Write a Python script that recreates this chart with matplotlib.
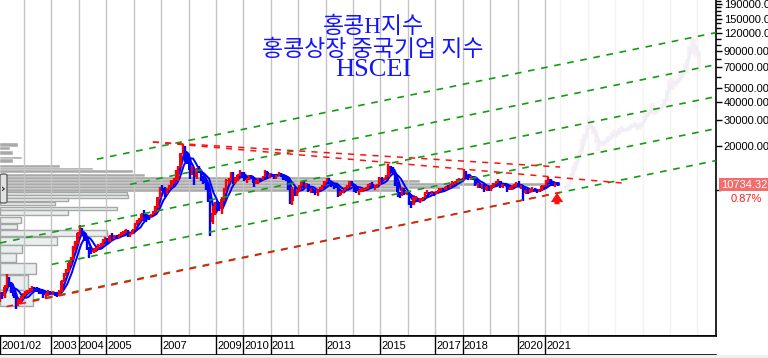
import numpy as np
import matplotlib
matplotlib.use("Agg")
import matplotlib.pyplot as plt
from matplotlib.patches import Rectangle, FancyBboxPatch
from matplotlib.ticker import FixedLocator, FuncFormatter, NullFormatter

plt.rcParams['font.family'] = ['Liberation Sans', 'Noto Sans CJK KR', 'DejaVu Sans']

# ---------------- data (monthly, Feb 2001 .. Jun 2021) ----------------
first_month = (2001, 2)
first_open = 1750
close = [
    1900, 1850, 2150, 2450, 2250, 2000, 1850, 1620, 1700, 1800, 1900,
    1950, 2000, 2050, 2100, 2080, 2050, 2000, 1980, 1870, 1880, 1980, 1930,
    1950, 1900, 1880, 2000, 2350, 2600, 2750, 3150, 3300, 4000, 4300, 5050,
    5300, 5000, 4600, 3950, 3800, 3750, 3850, 3950, 4100, 4150, 4500, 4500,
    4400, 4800, 4700, 4750, 4700, 4850, 4950, 5050, 5250, 4900, 4950, 5250,
    5800, 6000, 6150, 6800, 6600, 6550, 6400, 6750, 6950, 7550, 8850, 10300,
    10200, 9700, 10000, 10500, 11200, 11700, 13500, 14400, 17800, 19900, 16900, 16100,
    13600, 14000, 12300, 13900, 13600, 11800, 11700, 11100, 9400, 6000, 6900, 7900,
    7800, 7400, 8600, 9900, 11500, 11600, 12900, 11300, 11800, 12700, 13200, 12800,
    11700, 11800, 12400, 12100, 11100, 11200, 11800, 11700, 12400, 13200, 12400, 12700,
    12600, 12400, 12500, 12900, 12600, 12100, 11700, 10800, 8300, 10100, 9400, 9900,
    10700, 11300, 10400, 10900, 9800, 9900, 9800, 9500, 9900, 10300, 10600, 11400,
    11700, 11300, 10700, 10600, 10400, 9200, 9700, 9900, 10300, 10600, 11400, 10800,
    9900, 9800, 9800, 9900, 10100, 10200, 10900, 10900, 10300, 10500, 10800, 12000,
    11900, 11900, 12300, 14500, 13600, 13100, 11200, 9600, 9200, 10000, 9300, 9700,
    8300, 7800, 8700, 8700, 8400, 8600, 8700, 9500, 9600, 9500, 9500, 9400,
    9700, 10000, 10100, 10000, 10500, 10400, 10800, 11200, 11300, 11800, 11800, 11700,
    13500, 12400, 12000, 12000, 11900, 10800, 10900, 10600, 10900, 10000, 10500, 10100,
    10600, 11100, 11300, 11500, 10400, 10900, 10700, 10000, 10100, 10500, 10600, 11200,
    10500, 10500, 9500, 9900, 9500, 9900, 10100, 10000, 9600, 10000, 10600, 10700,
    11300, 11800, 11000, 10900, 11000, 10734.32,
]
high = [
    1980, 1990, 2200, 2620, 2500, 2300, 2050, 1900, 1780, 1850, 1950,
    2000, 2050, 2120, 2180, 2150, 2130, 2090, 2050, 2000, 1950, 2030, 2010,
    2020, 1990, 1960, 2050, 2400, 2680, 2850, 3250, 3450, 4100, 4450, 5150,
    5700, 5450, 5050, 4700, 4000, 3950, 3950, 4050, 4200, 4300, 4600, 4700,
    4650, 4900, 5000, 4900, 4850, 4950, 5100, 5200, 5350, 5300, 5050, 5350,
    5900, 6200, 6400, 6950, 7200, 6750, 6700, 6850, 7100, 7700, 8950, 10400,
    10700, 10500, 10200, 10700, 11600, 12000, 13700, 14600, 18000, 20600, 20000, 17500,
    16500, 14600, 14200, 14200, 14600, 13700, 12500, 11900, 11200, 9500, 7700, 8200,
    8400, 8200, 8900, 10200, 11800, 12100, 13300, 13300, 12200, 12900, 13700, 13200,
    13300, 12000, 12600, 12600, 12100, 11700, 12000, 12100, 12500, 13700, 13500, 12900,
    12900, 12700, 12700, 13200, 13000, 12600, 12300, 11800, 10900, 10500, 10400, 10000,
    10800, 11500, 11500, 11100, 11000, 10200, 10100, 10000, 10100, 10500, 10700, 11500,
    12000, 12100, 11400, 10800, 11100, 10400, 9800, 10000, 10500, 10800, 11500, 11400,
    10900, 10200, 9900, 10200, 10300, 10400, 11000, 11200, 11300, 10700, 11000, 12300,
    12300, 12100, 12600, 15000, 14600, 14300, 13200, 11300, 9700, 10400, 10200, 9800,
    9800, 8300, 8900, 9100, 8700, 8800, 8900, 9600, 9900, 9700, 9800, 9700,
    9800, 10200, 10300, 10200, 10600, 10700, 10900, 11400, 11500, 11900, 12000, 11900,
    13960, 13500, 12700, 12400, 12300, 11900, 11100, 11000, 10900, 11000, 10600, 10600,
    10700, 11200, 11500, 11800, 11500, 11000, 11100, 10700, 10400, 10700, 10900, 11300,
    11400, 10800, 10700, 10000, 10200, 10100, 10400, 10300, 10100, 10100, 10700, 10800,
    11700, 12300, 11900, 11200, 11100, 11100,
]
low = [
    1680, 1760, 1800, 2100, 2150, 1950, 1800, 1520, 1580, 1650, 1780,
    1850, 1900, 1960, 2000, 1990, 1960, 1920, 1900, 1800, 1760, 1860, 1870,
    1880, 1850, 1820, 1850, 1990, 2330, 2550, 2720, 3050, 3280, 3800, 4250,
    4900, 4800, 4400, 3850, 3400, 3600, 3650, 3750, 3900, 4000, 4100, 4350,
    4250, 4350, 4550, 4550, 4550, 4650, 4800, 4900, 5000, 4700, 4750, 4950,
    5250, 5700, 5900, 6150, 6100, 6000, 6200, 6350, 6650, 6900, 7500, 8800,
    9800, 8900, 9300, 9900, 10400, 10900, 11600, 11500, 14300, 17600, 15500, 15000,
    11800, 12700, 10800, 11900, 13100, 11500, 11000, 9900, 8200, 4800, 5800, 6700,
    7300, 7100, 6800, 8400, 9800, 10900, 11400, 11000, 11000, 11500, 12400, 12100,
    11400, 11200, 11600, 11800, 10400, 10900, 11000, 11500, 11700, 12300, 12100, 12100,
    12200, 11900, 11800, 12400, 12200, 11600, 11400, 9900, 8000, 7800, 9100, 9100,
    9700, 10600, 10300, 10200, 9600, 9500, 9500, 9200, 9100, 9900, 10000, 10600,
    11300, 11000, 10500, 10100, 10300, 8900, 9100, 9500, 9800, 10100, 10500, 10600,
    9700, 9500, 9200, 9700, 9700, 9900, 10100, 10600, 10200, 10000, 10400, 10800,
    11500, 11700, 11600, 12200, 13300, 12600, 10600, 8900, 8700, 9100, 9200, 9200,
    7900, 7500, 7800, 8500, 8200, 8100, 8500, 8700, 9300, 9300, 9200, 9100,
    9300, 9600, 9800, 9700, 9900, 10200, 10300, 10700, 11000, 11200, 11400, 11300,
    11600, 11900, 11600, 11700, 11600, 10600, 10300, 10200, 10100, 9700, 9800, 9800,
    9800, 10500, 10900, 11200, 10200, 10300, 10600, 9700, 9900, 9900, 10400, 10500,
    10400, 10100, 8300, 9300, 9300, 9500, 9700, 9800, 9500, 9600, 9800, 10400,
    10600, 11200, 10600, 10600, 10500, 10600,
]
last_price = 10734.32
last_change = "0.87%"

title_lines = ["홍콩H지수", "홍콩상장 중국기업 지수", "HSCEI"]
date_labels = ["2001/02", "2003", "2004", "2005", "2007", "2009", "2010", "2011",
               "2013", "2015", "2017", "2018", "2020", "2021"]
date_label_years = [2001.125, 2003, 2004, 2005, 2007, 2009, 2010, 2011,
                    2013, 2015, 2017, 2018, 2020, 2021]
grid_years = list(range(2002, 2022))
right_labels = [20000, 30000, 40000, 50000, 70000, 90000, 120000, 150000, 190000]
right_minor = [10000, 60000, 80000, 100000, 110000, 130000, 140000,
               160000, 170000, 180000, 200000]

# price-volume profile (price band low / high, bar length in years of x axis)
prof_hi = [20974, 19685, 18476, 16798, 16276, 14798, 14108, 13668, 12930, 12232,
           11664, 11122, 10604, 10112, 9642, 9194, 8766, 8228, 7602, 7248,
           6486, 5806, 5278, 4724, 4162, 3666, 3128, 2586, 2038]
prof_lo = [19685, 18772, 17342, 16276, 15276, 14108, 13668, 13032, 12330, 11664,
           11122, 10604, 10112, 9642, 9194, 8766, 8360, 7846, 7248, 6696,
           5898, 5364, 4800, 4162, 3666, 3178, 2628, 2038, 1582]
prof_len = [0.66, 0.36, 0.47, 0.80, 0.47, 2.19, 3.39, 4.85, 5.29, 12.03,
            15.32, 20.31, 16.78, 14.59, 4.63, 4.67, 2.48, 2.01, 4.27, 2.48,
            0.77, 0.62, 3.90, 2.08, 0.80, 0.58, 1.31, 1.02, 1.20]

# trend channel (base line anchors, ratio between parallel lines, start of each line)
chan_t = (2001.125, 2027.24)
chan_p = (1557, 15870)
chan_ratio = 1.661
chan_start = [2002.33, 2003.02, 2001.125, 2005.87, 2004.66]
base_red_span = (2001.125, 2021.55)

# resistance lines from the 2007 top
resA = ((2006.70, 21310), (2023.81, 11120))
resB = ((2006.70, 21310), (2021.55, 14330))

arrow_t = 2021.44
arrow_p = (7600, 9930)

# faint projection (copy of Mar 2003 .. Dec 2007 pattern)
ghost_range = (25, 83)
ghost_shift = 18.56
ghost_scale = 5.46

# ---------------- figure ----------------
W, H = 768, 358
fig = plt.figure(figsize=(W / 100, H / 100), dpi=100)
fig.patch.set_facecolor('white')

XL = (2001.125, 2001.125 + 716 / 27.42)
YL = (982.8, 202560)

ax = fig.add_axes([0, 22 / H, 716 / W, 336 / H])
ax.set_xlim(*XL)
ax.set_yscale('log')
ax.set_ylim(*YL)
for s in ['left', 'top']:
    ax.spines[s].set_visible(False)
ax.spines['right'].set_color('black')
ax.spines['bottom'].set_color('black')
ax.spines['right'].set_linewidth(1.2)
ax.spines['bottom'].set_linewidth(1.2)
ax.set_xticks([])
ax.yaxis.tick_right()
ax.yaxis.set_major_locator(FixedLocator(right_labels))
ax.yaxis.set_minor_locator(FixedLocator(right_minor))
ax.yaxis.set_major_formatter(FuncFormatter(lambda v, p: f"{v:.2f}"))
ax.yaxis.set_minor_formatter(NullFormatter())
ax.tick_params(axis='y', which='major', length=4, width=1, pad=1.5, labelsize=8, colors='black')
ax.tick_params(axis='y', which='minor', length=3.5, width=1)

# grid lines
for g in grid_years:
    ax.axvline(g, color='#c4c4c4', lw=1, zorder=1.5)
for g in range(2003, 2009):
    ax.axvline(g + ghost_shift, color='#f3f3f3', lw=1, zorder=0.5)

# volume profile
for lo, hi, ln in zip(prof_lo, prof_hi, prof_len):
    if lo >= 9600:
        r = Rectangle((XL[0], lo), ln, hi - lo, facecolor='#a9a9a9',
                      edgecolor='white', lw=0.3, zorder=1)
    else:
        r = Rectangle((XL[0], lo), ln, hi - lo, facecolor='#e8efee',
                      edgecolor='#a6a6a6', lw=1.0, zorder=1)
    ax.add_patch(r)

# price data
n = len(close)
t = first_month[0] + (first_month[1] - 1) / 12 + np.arange(n) / 12 + 1 / 24
c = np.array(close, float)
o = np.r_[first_open, c[:-1]]
h = np.maximum(np.array(high, float), np.maximum(o, c))
l = np.minimum(np.array(low, float), np.minimum(o, c))
up = c >= o

# ghost projection (very faint)
g0, g1 = ghost_range
gt = t[g0:g1 + 1] + ghost_shift
ax.vlines(gt, l[g0:g1 + 1] * ghost_scale, h[g0:g1 + 1] * ghost_scale,
          color='#fbeef1', lw=2.6, zorder=1.2)
gma = np.convolve(c[g0 - 2:g1 + 1], np.ones(3) / 3, mode='valid') * ghost_scale
ax.plot(gt, gma, color='#eeeefb', lw=2, zorder=1.3)


def ma(x, k):
    return np.convolve(x, np.ones(k) / k, mode='valid')


# moving averages (behind candles) and candles
ax.plot(t[5:] + 0.04, ma(c, 6), color='#0000ff', lw=1.4, zorder=3.7)
ax.plot(t[2:] + 0.04, ma(c, 3), color='#0000ff', lw=1.7, zorder=3.8)
for i in range(n):
    col = '#ff0000' if up[i] else '#0000ff'
    ax.vlines(t[i], l[i], h[i], color=col, lw=1.7, zorder=4)
    ax.bar(t[i], c[i] - o[i], bottom=o[i], width=0.09, color=col, lw=0, zorder=4)

# channel lines
T0, T1 = chan_t
P0, P1 = chan_p


def chan(tt, k):
    return P0 * chan_ratio ** k * (P1 / P0) ** ((tt - T0) / (T1 - T0))


green = '#129c12'
for k, ts in enumerate(chan_start):
    ax.plot([ts, XL[1]], [chan(ts, k), chan(XL[1], k)], color=green, lw=1.2,
            ls=(0, (4, 4)), zorder=5)
rb0, rb1 = base_red_span
ax.plot([rb0, rb1], [chan(rb0, 0) * 0.985, chan(rb1, 0)], color='#ff1010', lw=1.2,
        ls=(4, (4, 4)), zorder=5)

for (ta, pa), (tb, pb) in [resA, resB]:
    ax.plot([ta, tb], [pa, pb], color='#ff1010', lw=1.1, ls=(0, (4, 4)), zorder=5)

# arrow
ax.annotate('', xy=(arrow_t, arrow_p[1]), xytext=(arrow_t, arrow_p[0]),
            arrowprops=dict(arrowstyle='simple,head_length=0.55,head_width=0.75,tail_width=0.3',
                            color='#ff1010', lw=0, mutation_scale=12), zorder=6)

# small panel button on the left
btn = FancyBboxPatch((0.0, 1 - 203 / 336), 7 / 716, 29 / 336, transform=ax.transAxes,
                     boxstyle='round,pad=0,rounding_size=0.004', facecolor='#e2e2e2',
                     edgecolor='#666666', lw=1, zorder=7, clip_on=False)
ax.add_patch(btn)
ax.text(3.5 / 716, 1 - 188.5 / 336, '›', transform=ax.transAxes, ha='center', va='center',
        fontsize=8, fontweight='bold', color='#222222', zorder=8, family='DejaVu Sans')

# title
blue = '#1414ff'
fig.text(373 / W, 1 - 27 / H, title_lines[0], ha='center', va='center', fontsize=16.5,
         color=blue, family=['Liberation Serif', 'Noto Sans CJK KR'])
fig.text(373 / W, 1 - 49 / H, title_lines[1], ha='center', va='center', fontsize=16.5,
         color=blue, family=['Noto Sans CJK KR'])
fig.text(373 / W, 1 - 70 / H, title_lines[2], ha='center', va='center', fontsize=19,
         color=blue, family=['Liberation Serif'])

# last price box
fig.patches.append(Rectangle((719 / W, 1 - 191 / H), 49 / W, 13 / H, transform=fig.transFigure,
                             facecolor='#f46c6c', edgecolor='none', zorder=5))
fig.text(721 / W, 1 - 184.5 / H, f"{last_price:.2f}", ha='left', va='center', fontsize=8,
         color='white', zorder=6)
fig.text(731 / W, 1 - 198.5 / H, last_change, ha='left', va='center', fontsize=8,
         color='#ff1a1a', zorder=6)

# date strip
dax = fig.add_axes([0, 3 / H, 716 / W, 19 / H])
dax.set_xlim(*XL)
dax.set_ylim(0, 1)
dax.set_xticks([])
dax.set_yticks([])
for s in ['left', 'right']:
    dax.spines[s].set_visible(False)
dax.spines['top'].set_linewidth(1.2)
dax.spines['bottom'].set_linewidth(1.2)
for lab, yr in zip(date_labels, date_label_years):
    dax.axvline(yr, color='black', lw=1)
    dax.text(yr + 0.04, 0.45, lab, ha='left', va='center', fontsize=8, color='black')

fig.patches.append(Rectangle((0, 0), 1, 3 / H, transform=fig.transFigure,
                             facecolor='#efefef', edgecolor='none', zorder=0))

fig.savefig('out.png', dpi=100)
